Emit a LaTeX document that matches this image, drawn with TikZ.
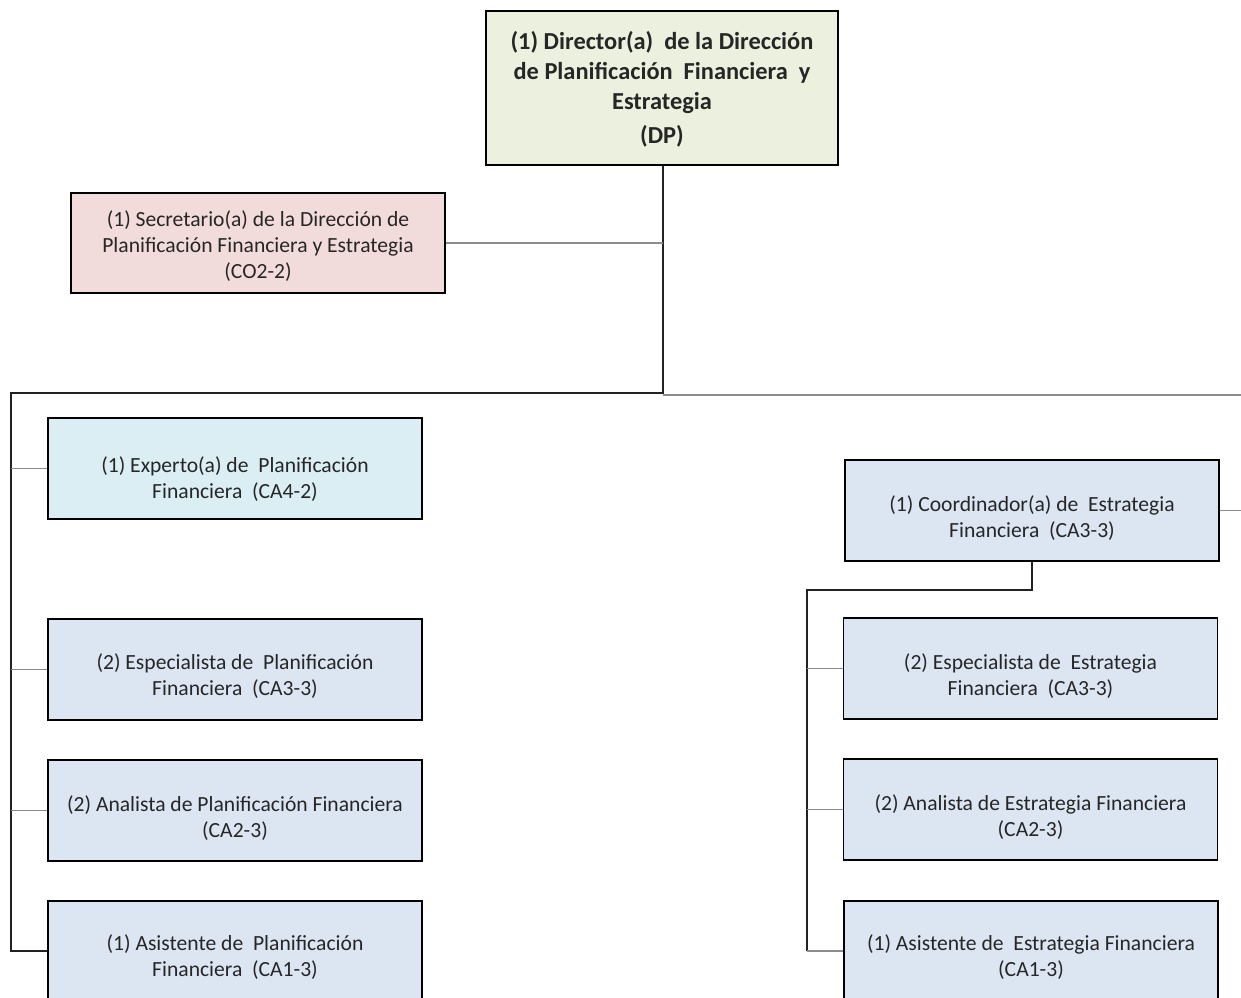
\documentclass[tikz,border=0pt]{standalone}
\usepackage{fontspec}
\setmainfont{Carlito}
\definecolor{dirfill}{HTML}{EBF1DE}
\definecolor{secfill}{HTML}{F2DCDB}
\definecolor{expfill}{HTML}{DAEEF3}
\definecolor{bluefill}{HTML}{DCE6F2}
\definecolor{linedark}{HTML}{222222}
\definecolor{linegray}{HTML}{8C8C8C}
\begin{document}
\begin{tikzpicture}[x=0.75pt,y=-0.75pt,
  box/.style={draw=black,line width=1.4pt,rectangle,inner sep=0pt,
    minimum width=280.5pt,minimum height=75.75pt},
  txt/.style={inner sep=0pt,align=center,font=\fontsize{16.2}{19.5}\selectfont,text=black!85},
  dirtxt/.style={txt,font=\bfseries\fontsize{18.3}{22.5}\selectfont},
  mainline/.style={draw=linedark,line width=1.3pt},
  subline/.style={draw=linegray,line width=1.1pt}]
\useasboundingbox (0,0) rectangle (1241,998);
\clip (0,0) rectangle (1241,998);
% boxes
\node[box,fill=dirfill,minimum width=264pt,minimum height=115.5pt] (dir) at (662,88) {};
\node[box,fill=secfill,minimum height=75pt] (sec) at (258,243) {};
\node[box,fill=expfill] (e1) at (235,468.5) {};
\node[box,fill=bluefill] (e2) at (235,669.5) {};
\node[box,fill=bluefill] (e3) at (235,810.5) {};
\node[box,fill=bluefill,minimum height=75pt] (e4) at (235,951) {};
\node[box,fill=bluefill] (c1) at (1032,510.5) {};
\node[box,fill=bluefill] (r2) at (1030.5,668.5) {};
\node[box,fill=bluefill] (r3) at (1030.5,809.5) {};
\node[box,fill=bluefill,minimum height=75pt] (r4) at (1031,951) {};
% texts
\node[dirtxt] (dirt) at ([yshift=-1pt]dir.center) {(1) Director(a)\ \ de la Dirección\\de Planificación\ \ Financiera\ \ y\\Estrategia\\[3.5pt](DP)};
\node[txt] (sect) at ([yshift=-2.5pt]sec.center) {(1) Secretario(a) de la Dirección de\\Planificación Financiera y Estrategia\\(CO2-2)};
\node[txt] (e1t) at ([yshift=-8pt]e1.center) {(1) Experto(a) de\ \ Planificación\\Financiera\ \ (CA4-2)};
\node[txt] (e2t) at ([yshift=-5pt]e2.center) {(2) Especialista de\ \ Planificación\\Financiera\ \ (CA3-3)};
\node[txt] (e3t) at ([yshift=-5.5pt]e3.center) {(2) Analista de Planificación Financiera\\(CA2-3)};
\node[txt] (e4t) at ([yshift=-4.5pt]e4.center) {(1) Asistente de\ \ Planificación\\Financiera\ \ (CA1-3)};
\node[txt] (c1t) at ([yshift=-5.5pt]c1.center) {(1) Coordinador(a) de\ \ Estrategia\\Financiera\ \ (CA3-3)};
\node[txt] (r2t) at ([yshift=-5.5pt]r2.center) {(2) Especialista de\ \ Estrategia\\Financiera\ \ (CA3-3)};
\node[txt] (r3t) at ([yshift=-5.5pt]r3.center) {(2) Analista de Estrategia Financiera\\(CA2-3)};
\node[txt] (r4t) at ([yshift=-4.5pt]r4.center) {(1) Asistente de\ \ Estrategia Financiera\\(CA1-3)};
% coordinates
\coordinate (j1) at (663,393);
\coordinate (j2) at (663,395);
\coordinate (jl) at (11,393);
\coordinate (jr) at (1241,395);
\coordinate (jsec) at (663,243);
\coordinate (cr) at (1241,510.5);
\coordinate (k1) at (1032,590);
\coordinate (k2) at (807,590);
% connectors
\draw[mainline] (dir.south -| j1) -- (j1) -- (jl) -- (jl |- e4.west) -- (e4.west);
\draw[subline] (j2) -- (jr);
\draw[subline] (sec.east) -- (jsec);
\draw[subline] (jl |- e1.west) -- (e1.west);
\draw[subline] (jl |- e2.west) -- (e2.west);
\draw[subline] (jl |- e3.west) -- (e3.west);
\draw[subline] (c1.east) -- (cr);
\draw[mainline] (c1.south) -- (k1) -- (k2) -- (k2 |- r4.west);
\draw[subline] (k2 |- r2.west) -- (r2.west);
\draw[subline] (k2 |- r3.west) -- (r3.west);
\draw[subline] (k2 |- r4.west) -- (r4.west);
\end{tikzpicture}
\end{document}
